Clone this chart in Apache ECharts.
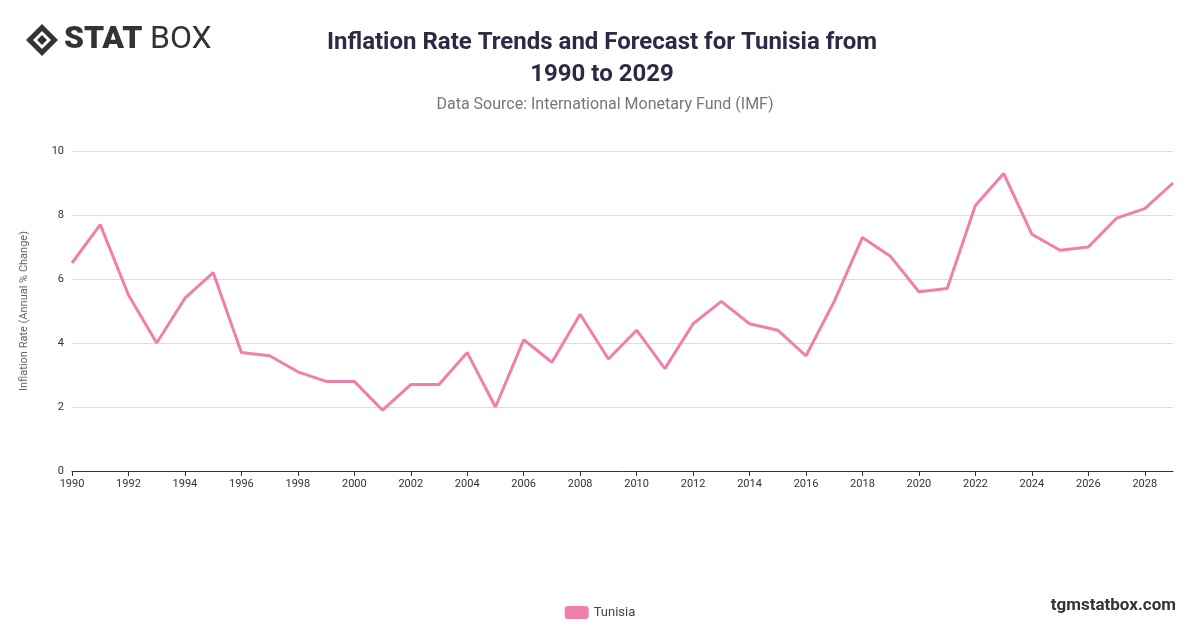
<!DOCTYPE html>
<html>
<head>
<meta charset="utf-8">
<script src="https://cdn.jsdelivr.net/npm/echarts@6/dist/echarts.min.js"></script>
<style>
  html, body { margin: 0; padding: 0; background: #fff; }
  #main { width: 1200px; height: 628px; }
</style>
</head>
<body>
<div id="main"></div>
<script>
const years = [];
for (let y = 1990; y <= 2029; y++) years.push(String(y));

const tunisia = [6.5, 7.7, 5.5, 4.0, 5.4, 6.2, 3.7, 3.6, 3.1, 2.8,
  2.8, 1.9, 2.7, 2.7, 3.7, 2.0, 4.1, 3.4, 4.9, 3.5,
  4.4, 3.2, 4.6, 5.3, 4.6, 4.4, 3.6, 5.3, 7.3, 6.7,
  5.6, 5.7, 8.3, 9.3, 7.4, 6.9, 7.0, 7.9, 8.2, 9.0];

const myChart = echarts.init(document.querySelector('#main'));
const font = 'Roboto, "Noto Sans", sans-serif';

const option = {
  animation: false,
  textStyle: { fontFamily: font },
  title: [
    {
      text: 'Inflation Rate Trends and Forecast for Tunisia from\n1990 to 2029',
      left: 597, top: 22, textAlign: 'center',
      textStyle: { fontSize: 24, fontWeight: 'bold', color: '#2b2b45', lineHeight: 32, fontFamily: font }
    },
    {
      text: 'Data Source: International Monetary Fund (IMF)',
      left: 600, top: 92, textAlign: 'center',
      textStyle: { fontSize: 16, fontWeight: 'normal', color: '#777', fontFamily: font }
    }
  ],
  graphic: [
    {
      type: 'group', left: 26, top: 24,
      children: [
        { type: 'polygon', shape: { points: [[16, 0], [32, 16], [16, 32], [0, 16]] }, style: { fill: '#333' } },
        { type: 'polygon', shape: { points: [[16, 7], [25, 16], [16, 25], [7, 16]] }, style: { fill: '#fff' } },
        { type: 'polygon', shape: { points: [[16, 11], [21, 16], [16, 21], [11, 16]] }, style: { fill: '#333' } },
        { type: 'text', left: 38, top: 0, style: { text: 'STAT', fontSize: 32, fontWeight: 900, fill: '#333', fontFamily: font } },
        { type: 'text', left: 124, top: 0, style: { text: 'BOX', fontSize: 32, fontWeight: 'normal', fill: '#333', fontFamily: font } }
      ]
    },
    {
      type: 'text', right: 24, top: 597,
      style: { text: 'tgmstatbox.com', fontSize: 17, fontWeight: 'bold', fill: '#333', fontFamily: font }
    }
  ],
  legend: {
    bottom: 4, left: 'center',
    itemWidth: 24, itemHeight: 13,
    icon: 'roundRect',
    textStyle: { fontSize: 13, color: '#444' },
    data: ['Tunisia']
  },
  grid: { left: 72, right: 27, top: 151, bottom: 157 },
  xAxis: {
    type: 'category',
    data: years,
    boundaryGap: false,
    axisLine: { lineStyle: { color: '#333' } },
    axisTick: { show: true, lineStyle: { color: '#333' } },
    axisLabel: { color: '#333', fontSize: 11, interval: 1 }
  },
  yAxis: {
    type: 'value',
    min: 0, max: 10, interval: 2,
    name: 'Inflation Rate (Annual % Change)',
    nameLocation: 'middle',
    nameGap: 42,
    nameTextStyle: { color: '#666', fontSize: 11 },
    axisLabel: { color: '#333', fontSize: 11 },
    splitLine: { lineStyle: { color: '#ddd' } }
  },
  series: [
    {
      name: 'Tunisia',
      type: 'line',
      data: tunisia,
      showSymbol: false,
      symbol: 'circle',
      itemStyle: { color: '#f17fab' },
      lineStyle: { color: '#f17fab', width: 3 }
    }
  ]
};
myChart.setOption(option);
</script>
</body>
</html>
